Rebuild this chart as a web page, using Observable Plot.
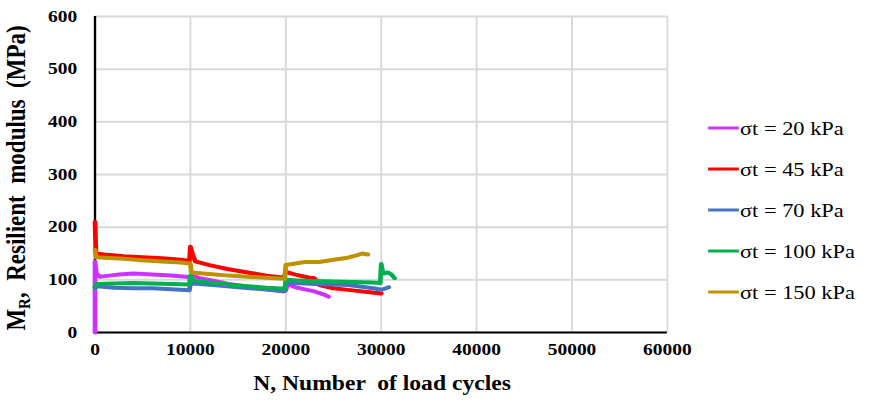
<!DOCTYPE html>
<html><head><meta charset="utf-8">
<script src="https://cdn.jsdelivr.net/npm/d3@7"></script>
<script src="https://cdn.jsdelivr.net/npm/@observablehq/plot@0.6"></script>
<style>
body{margin:0;background:#fff}
#chart svg{display:block}
</style>
</head><body><div id="chart"></div>
<script>
// ---- data ----
const seriesNames = ["σt = 20 kPa", "σt = 45 kPa", "σt = 70 kPa", "σt = 100 kPa", "σt = 150 kPa"];
const seriesColors = ["#cc33ff", "#ff0000", "#4472c4", "#00b050", "#bf9000"];

const n20  = [0, 0, 150, 500, 1500, 2500, 4000, 6000, 8000, 9500, 10000, 10100, 11000, 12500, 14000, 16000, 18000, 19800, 20000, 20200, 21000, 22000, 23000, 24000, 24500];
const mr20 = [0, 135, 112, 106, 108, 110, 112, 110, 108, 106, 104, 108, 103, 98, 92, 87, 82, 78, 80, 92, 86, 82, 78, 72, 68];

const n45  = [0, 100, 1000, 3000, 5000, 7000, 9000, 9900, 10000, 10200, 10500, 12000, 14000, 16000, 18000, 19800, 20000, 21000, 22500, 23000, 23500, 25000, 27000, 29000, 30000];
const mr45 = [210, 150, 148, 145, 143, 141, 138, 136, 163, 150, 135, 128, 120, 114, 108, 104, 115, 110, 104, 103, 90, 84, 80, 76, 74];

const n70  = [0, 200, 2000, 4000, 6000, 8000, 9900, 10000, 11000, 13000, 15000, 17000, 19000, 19900, 20000, 21000, 23000, 25000, 26500, 28000, 29500, 30000, 30500, 30800];
const mr70 = [85, 88, 85, 84, 84, 82, 80, 94, 92, 89, 86, 83, 80, 79, 95, 94, 92, 91, 90, 87, 83, 81, 84, 86];

const n100  = [0, 200, 2000, 4000, 6000, 8000, 9900, 10000, 10300, 12000, 14000, 16000, 18000, 19900, 20000, 21000, 23000, 25000, 27000, 29000, 29900, 30000, 30200, 30700, 31100, 31400];
const mr100 = [85, 92, 93, 94, 93, 92, 91, 108, 98, 95, 91, 88, 85, 83, 100, 99, 98, 97, 96, 95, 94, 130, 112, 114, 110, 103];

const n150  = [0, 100, 1000, 3000, 5000, 7000, 9000, 9900, 10000, 10100, 12000, 14000, 16000, 18000, 19900, 20000, 21000, 22000, 23500, 25000, 26500, 27500, 28000, 28600];
const mr150 = [157, 143, 142, 140, 137, 135, 133, 131, 130, 114, 111, 108, 106, 104, 102, 128, 131, 134, 134, 138, 142, 147, 150, 148];

const xTicks = [0, 10000, 20000, 30000, 40000, 50000, 60000];
const yTicks = [0, 100, 200, 300, 400, 500, 600];

// ---- build table ----
const seriesN = [n20, n45, n70, n100, n150];
const seriesMR = [mr20, mr45, mr70, mr100, mr150];
const rows = [];
seriesNames.forEach((s, i) => {
  seriesN[i].forEach((n, j) => rows.push({s, n, mr: seriesMR[i][j]}));
});

// reference image is horizontally stretched; draw in a narrower space and stretch
const S = 1.18;
const W = Math.round(871 / S);
const H = 402;

const plot = Plot.plot({
  width: W, height: H,
  marginLeft: 80, marginRight: 173, marginTop: 16, marginBottom: 70,
  style: {fontFamily: "'Liberation Serif','Times New Roman',serif", fontSize: "16.5px", fontWeight: "bold", background: "#fff", color: "#000"},
  x: {domain: [0, 60000], ticks: xTicks, tickSize: 0, tickPadding: 11, label: null, tickFormat: d => String(d)},
  y: {domain: [0, 600], ticks: yTicks, tickSize: 0, tickPadding: 15, label: null},
  color: {domain: seriesNames, range: seriesColors},
  marks: [
    Plot.ruleX(xTicks, {stroke: "#d9d9d9", strokeWidth: 1.6}),
    Plot.ruleY(yTicks, {stroke: "#d9d9d9", strokeWidth: 2}),
    Plot.ruleX([0], {stroke: "#000", strokeWidth: 2}),
    Plot.ruleY([0], {stroke: "#000", strokeWidth: 2}),
    Plot.line(rows, {x: "n", y: "mr", z: "s", stroke: "s", strokeWidth: 4, strokeLinejoin: "round"})
  ]
});

plot.setAttribute("preserveAspectRatio", "none");
plot.setAttribute("width", 871);
plot.setAttribute("height", 402);
plot.style.maxWidth = "none";
plot.style.width = "871px";
plot.style.height = "402px";

const svg = d3.select(plot);
// y title
const yt = svg.append("text")
  .attr("transform", "translate(21,178) rotate(-90)")
  .attr("text-anchor", "middle")
  .attr("font-size", 23).attr("font-weight", "bold")
  .style("white-space", "pre");
yt.append("tspan").text("M");
yt.append("tspan").attr("font-size", 15).attr("dy", 4).text("R");
yt.append("tspan").attr("dy", -4).text(",  Resilient  modulus  (MPa)");
// x title
svg.append("text")
  .attr("x", 323.7).attr("y", 390)
  .attr("text-anchor", "middle")
  .attr("font-size", 20).attr("font-weight", "bold")
  .style("white-space", "pre")
  .text("N, Number  of load cycles");
// legend
const legY = [128, 169, 210, 251, 292];
seriesNames.forEach((s, i) => {
  svg.append("line").attr("x1", 600).attr("x2", 626).attr("y1", legY[i]).attr("y2", legY[i])
    .attr("stroke", seriesColors[i]).attr("stroke-width", 3);
  svg.append("text").attr("x", 627).attr("y", legY[i]).attr("dy", "0.35em")
    .attr("text-anchor", "start")
    .attr("font-size", 19).attr("font-weight", "normal").text(s);
});

document.getElementById("chart").appendChild(plot);
</script>
</body></html>
